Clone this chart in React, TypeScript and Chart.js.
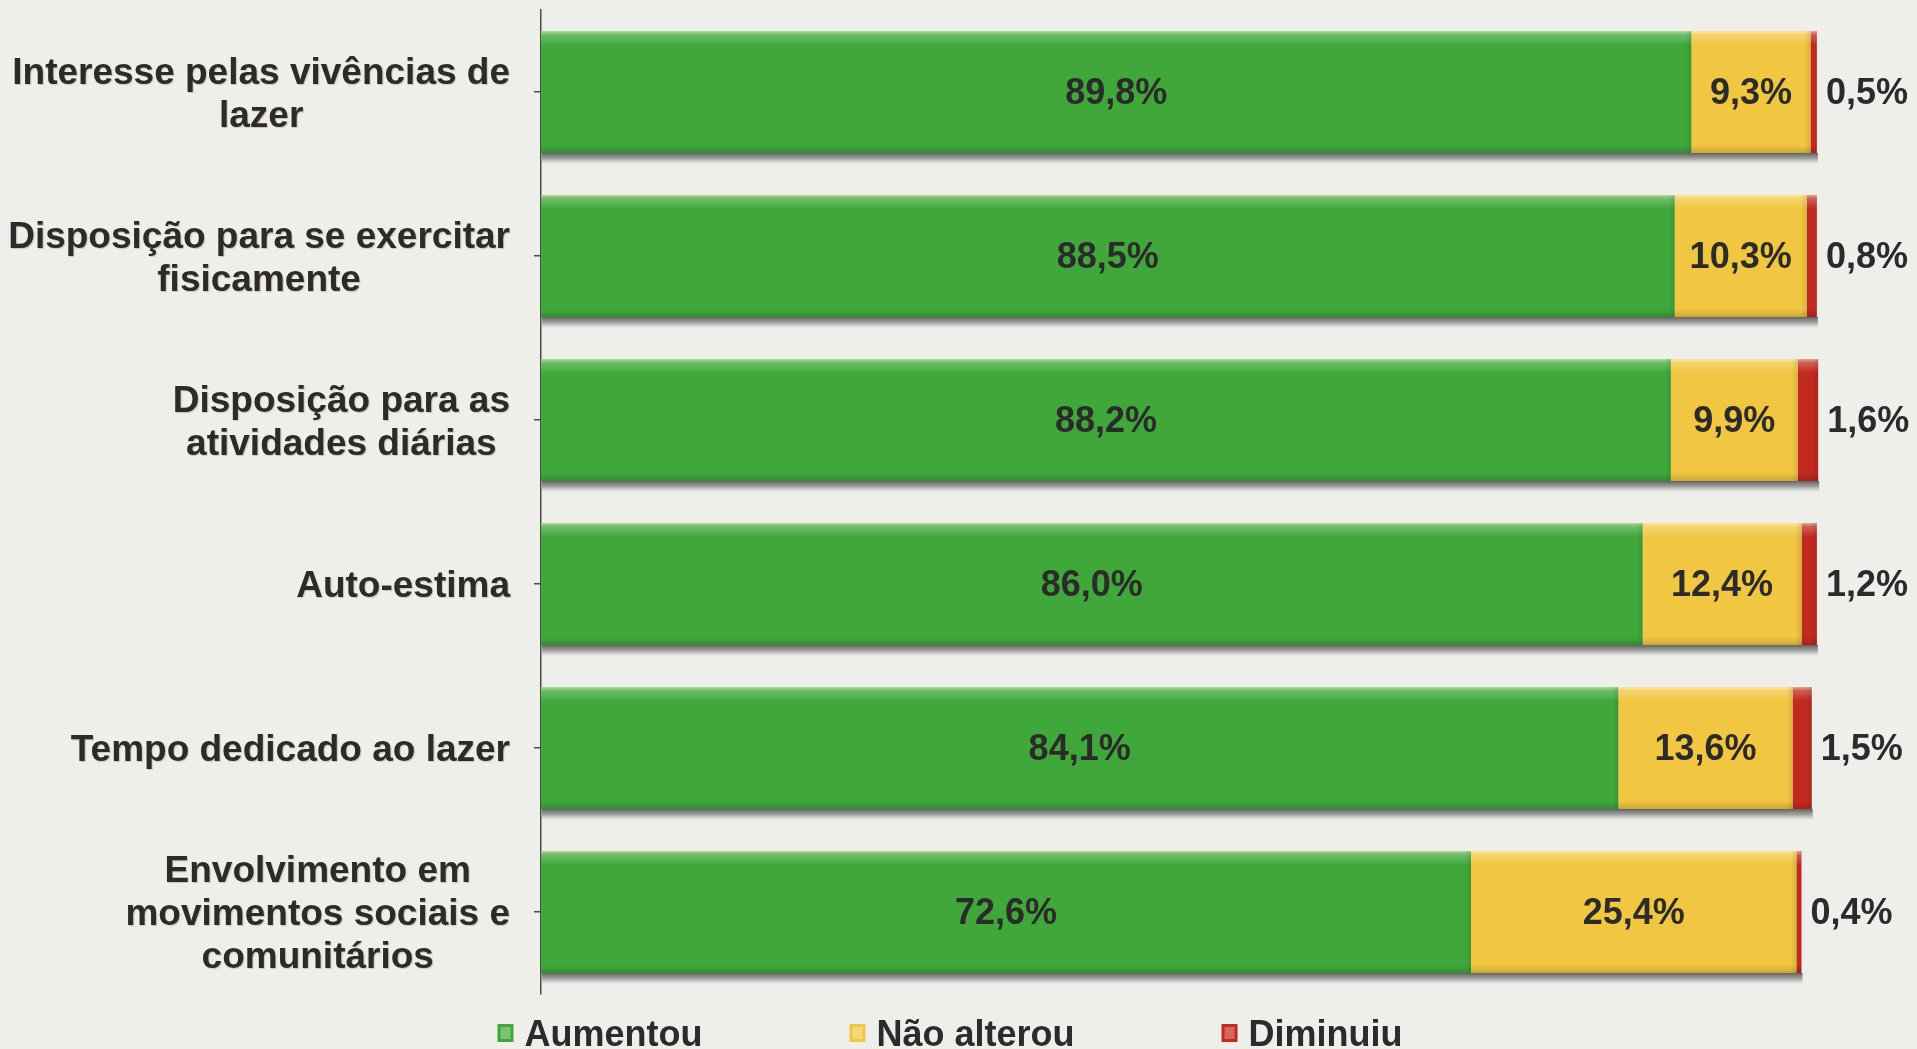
import React, { useEffect, useRef } from 'react';
import { Chart, registerables } from 'chart.js';

Chart.register(...registerables);

// ---------- data ----------
const categories: string[][] = [
  ['Interesse pelas vivências de', 'lazer'],
  ['Disposição para se exercitar', 'fisicamente'],
  ['Disposição para as', 'atividades diárias'],
  ['Auto-estima'],
  ['Tempo dedicado ao lazer'],
  ['Envolvimento em', 'movimentos sociais e', 'comunitários'],
];
const seriesNames = ['Aumentou', 'Não alterou', 'Diminuiu'];
const aumentou = [89.8, 88.5, 88.2, 86.0, 84.1, 72.6];
const naoAlterou = [9.3, 10.3, 9.9, 12.4, 13.6, 25.4];
const diminuiu = [0.5, 0.8, 1.6, 1.2, 1.5, 0.4];
const seriesColors = ['#40a83b', '#f1c640', '#c2291f'];

const rawSeries = [aumentou, naoAlterou, diminuiu];
const fmt = (v: number) => v.toFixed(1).replace('.', ',') + '%';

const TEXT = '#2b2b2b';
const FONT = '"Liberation Sans", Arial, sans-serif';

const shadowPlugin = {
  id: 'barShadow',
  beforeDatasetsDraw(chart: any) {
    const ctx = chart.ctx;
    const first = chart.getDatasetMeta(0);
    const last = chart.getDatasetMeta(chart.data.datasets.length - 1);
    ctx.save();
    first.data.forEach((el: any, i: number) => {
      const a = el.getProps(['base', 'y', 'height'], true);
      const b = last.data[i].getProps(['x'], true);
      const bt = a.y + a.height / 2;
      const g = ctx.createLinearGradient(0, bt, 0, bt + 11);
      g.addColorStop(0, 'rgba(70,70,70,0.85)');
      g.addColorStop(0.5, 'rgba(110,110,110,0.6)');
      g.addColorStop(1, 'rgba(150,150,150,0)');
      ctx.fillStyle = g;
      ctx.fillRect(a.base + 1, bt, b.x - a.base, 11);
    });
    ctx.restore();
  },
};

const bevelPlugin = {
  id: 'bevel',
  afterDatasetsDraw(chart: any) {
    const ctx = chart.ctx;
    ctx.save();
    chart.data.datasets.forEach((_: any, d: number) => {
      chart.getDatasetMeta(d).data.forEach((el: any) => {
        const p = el.getProps(['x', 'y', 'base', 'height'], true);
        const l = Math.min(p.x, p.base);
        const r = Math.max(p.x, p.base);
        const t = p.y - p.height / 2;
        const bt = p.y + p.height / 2;
        const w = r - l;
        if (w <= 0) return;
        let g = ctx.createLinearGradient(0, t, 0, t + 14);
        g.addColorStop(0, 'rgba(255,255,190,0.6)');
        g.addColorStop(0.25, 'rgba(255,255,255,0.25)');
        g.addColorStop(1, 'rgba(255,255,255,0)');
        ctx.fillStyle = g;
        ctx.fillRect(l, t, w, 14);
        g = ctx.createLinearGradient(0, bt - 8, 0, bt);
        g.addColorStop(0, 'rgba(0,0,0,0)');
        g.addColorStop(1, 'rgba(0,0,0,0.16)');
        ctx.fillStyle = g;
        ctx.fillRect(l, bt - 8, w, 8);
        if (w > 12) {
          g = ctx.createLinearGradient(r - 6, 0, r, 0);
          g.addColorStop(0, 'rgba(0,0,0,0)');
          g.addColorStop(1, 'rgba(0,0,0,0.1)');
          ctx.fillStyle = g;
          ctx.fillRect(r - 6, t, 6, p.height);
        }
      });
    });
    ctx.restore();
  },
};

const labelPlugin = {
  id: 'valueLabels',
  afterDatasetsDraw(chart: any) {
    const ctx = chart.ctx;
    ctx.save();
    ctx.font = `bold 36px ${FONT}`;
    ctx.fillStyle = TEXT;
    ctx.textBaseline = 'middle';
    chart.data.datasets.forEach((_: any, d: number) => {
      chart.getDatasetMeta(d).data.forEach((el: any, i: number) => {
        const p = el.getProps(['x', 'y', 'base'], true);
        const txt = fmt(rawSeries[d][i]);
        if (d < 2) {
          ctx.textAlign = 'center';
          ctx.fillText(txt, (p.x + p.base) / 2, p.y + 2);
        } else {
          ctx.textAlign = 'left';
          ctx.fillText(txt, p.x + 9, p.y + 2);
        }
      });
    });
    ctx.restore();
  },
};

const catLabelPlugin = {
  id: 'catLabels',
  afterDraw(chart: any) {
    const ctx = chart.ctx;
    const ys = chart.scales.y;
    const right = ys.right - 31;
    const lh = 43;
    ctx.save();
    ctx.font = `bold 37px ${FONT}`;
    ctx.fillStyle = TEXT;
    ctx.textBaseline = 'middle';
    ctx.textAlign = 'center';
    ctx.shadowColor = 'rgba(150,120,40,0.35)';
    ctx.shadowOffsetX = 1;
    ctx.shadowOffsetY = 1;
    ctx.shadowBlur = 1;
    (chart.data.labels as string[][]).forEach((lines, i) => {
      const y = ys.getPixelForValue(i);
      const bw = Math.max(...lines.map((s) => ctx.measureText(s).width));
      const cx = right - bw / 2;
      const y0 = y - ((lines.length - 1) * lh) / 2;
      lines.forEach((s, k) => ctx.fillText(s, cx, y0 + k * lh + 3));
    });
    ctx.restore();
  },
};

const legendPlugin = {
  id: 'customLegend',
  afterDraw(chart: any) {
    const ctx = chart.ctx;
    ctx.save();
    ctx.font = `bold 36px ${FONT}`;
    const box = 16;
    const gap = 11;
    const spacing = 147;
    const ds = chart.data.datasets;
    const widths = ds.map((d: any) => box + gap + ctx.measureText(d.label).width);
    const total = widths.reduce((a: number, b: number) => a + b, 0) + spacing * (ds.length - 1);
    let x = 950 - total / 2;
    const y = 1035;
    ds.forEach((d: any, i: number) => {
      ctx.fillStyle = d.backgroundColor;
      ctx.fillRect(x, y - 11, box, box + 2);
      ctx.fillStyle = 'rgba(255,255,255,0.3)';
      ctx.fillRect(x + 3, y - 8, box - 6, box - 4);
      ctx.fillStyle = TEXT;
      ctx.textAlign = 'left';
      ctx.textBaseline = 'middle';
      ctx.fillText(d.label, x + box + gap, y + 1);
      x += widths[i] + spacing;
    });
    ctx.restore();
  },
};

export default function App() {
  const ref = useRef<HTMLCanvasElement | null>(null);
  useEffect(() => {
    if (!ref.current) return;
    const chart = new Chart(ref.current, {
      type: 'bar',
      data: {
        labels: categories as any,
        datasets: rawSeries.map((s, d) => ({
          label: seriesNames[d],
          data: s,
          backgroundColor: seriesColors[d],
          borderWidth: 0,
          barPercentage: 0.744,
          categoryPercentage: 1,
        })),
      },
      options: {
        indexAxis: 'y',
        responsive: false,
        animation: false,
        layout: { padding: { top: 10, right: 95, bottom: 55, left: 0 } },
        plugins: {
          legend: { display: false },
          tooltip: { enabled: false },
        },
        scales: {
          x: { display: false, stacked: true, min: 0, max: 100 },
          y: {
            stacked: true,
            offset: true,
            grid: {
              display: true,
              drawOnChartArea: false,
              drawTicks: true,
              tickLength: 7,
              offset: false,
              color: '#5a4a3a',
              lineWidth: 1.5,
            },
            border: { display: true, color: '#4a4a4a', width: 1.5 },
            ticks: { display: false },
            afterFit: (s: any) => {
              s.width = 541;
            },
          },
        },
      },
      plugins: [shadowPlugin, bevelPlugin, labelPlugin, catLabelPlugin, legendPlugin],
    });
    return () => chart.destroy();
  }, []);
  return (
    <div style={{ position: 'fixed', left: 0, top: 0, width: 1917, height: 1049, background: '#eeeeeb' }}>
      <canvas ref={ref} width={1917} height={1049} style={{ display: 'block' }} />
    </div>
  );
}
